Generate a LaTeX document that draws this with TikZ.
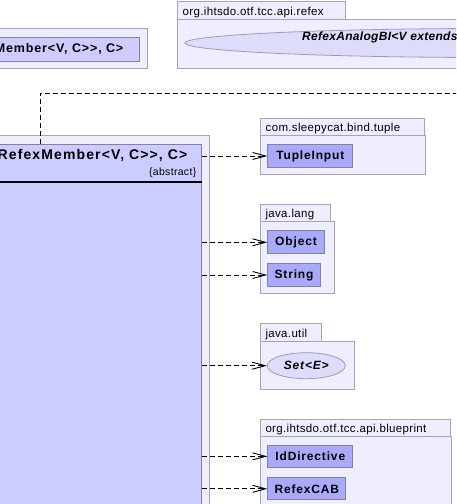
\documentclass[tikz,border=0pt]{standalone}
\usepackage{fontspec}
\setmainfont{Liberation Sans}
\newfontfamily\lblfont[LetterSpace=3]{Liberation Sans}
\newfontfamily\clsfont[LetterSpace=7]{Liberation Sans}
\newfontfamily\hdrfont[LetterSpace=8]{Liberation Sans}
\newfontfamily\ifcfont[LetterSpace=2.5]{Liberation Sans}
\usetikzlibrary{arrows.meta,shapes.geometric,calc}
\definecolor{pkgfill}{HTML}{EEEEFF}
\definecolor{pkgline}{HTML}{A4A4B4}
\definecolor{clsfill}{HTML}{AAAAFA}
\definecolor{mainfill}{HTML}{CCCCFF}
\definecolor{clsline}{HTML}{8080A8}
\definecolor{ifill}{HTML}{DDDDFB}
\definecolor{iline}{HTML}{9C9CB0}
\tikzset{
  pkgbox/.style={rectangle, draw=pkgline, fill=pkgfill, line width=1pt, inner sep=0pt, anchor=north west},
  pkglabel/.style={font=\lblfont\fontsize{11.5}{13}\selectfont, anchor=base west, inner sep=0pt},
  clsbox/.style={rectangle, draw=clsline, fill=clsfill, line width=1pt, inner sep=0pt, anchor=north west,
    font=\clsfont\bfseries\fontsize{12}{14}\selectfont},
  mainbox/.style={rectangle, draw=clsline, fill=mainfill, line width=1pt, inner sep=0pt, anchor=north west},
  ifacebox/.style={ellipse, draw=iline, fill=ifill, line width=0.8pt, inner sep=0pt,
    font=\clsfont\bfseries\itshape\fontsize{12}{14}\selectfont},
  bname/.style={font=\clsfont\bfseries\fontsize{12.5}{14}\selectfont, inner sep=0pt},
  dep/.style={dash pattern=on 5pt off 3pt, line width=0.9pt, -{Straight Barb[length=13pt,width=7pt]}},
}
\begin{document}
\begin{tikzpicture}[x=1pt,y=-1pt]
\useasboundingbox (0,0) rectangle (456,504);
\clip (0,0) rectangle (456,504);
\fill[white] (0,0) rectangle (456,504);

% top-left package
\node[pkgbox, minimum width=197pt, minimum height=40pt] (mpkg) at (-50,28) {};
\node[mainbox, minimum width=189pt, minimum height=24pt] (mcls) at (-50,37) {};
\node[bname, anchor=base east] (mtext) at (123.5,52.5) {Member<V, C>>, C>};

% refex package
\node[pkgbox, minimum width=168pt, minimum height=18pt] (rtab) at (177,1) {};
\node[pkglabel] (rlbl) at (182.5,15) {org.ihtsdo.otf.tcc.api.refex};
\node[pkgbox, minimum width=330pt, minimum height=49pt] (rpkg) at (177,19) {};
\node[ifacebox, minimum width=612pt, minimum height=29pt] (ranalog) at (491,43) {};
\node[font=\ifcfont\bfseries\itshape\fontsize{12}{14}\selectfont, inner sep=0pt, anchor=base west] (rtext) at (302,40.7) {RefexAnalogBI<V extends};

% main package and class
\node[pkgbox, minimum width=259pt, minimum height=470pt] (mainpkg) at (-50,135) {};
\node[mainbox, minimum width=251pt, minimum height=460pt] (main) at (-50,144) {};
\node[font=\hdrfont\bfseries\fontsize{14}{16}\selectfont, inner sep=0pt, anchor=base east] (maintext) at (187.5,159.5) {RefexMember<V, C>>, C>};
\node[font=\lblfont\fontsize{10.5}{12}\selectfont, anchor=base east, inner sep=0pt] (abs) at (196.5,175.5) {\{abstract\}};
\draw[line width=2pt] ($(main.north west)+(0,37.5)$) -- ($(main.north east)+(0,37.5)$);

% com.sleepycat.bind.tuple
\node[pkgbox, minimum width=164pt, minimum height=17pt] (ttab) at (260,118) {};
\node[pkglabel] (tlbl) at (265.5,131) {com.sleepycat.bind.tuple};
\node[pkgbox, minimum width=165pt, minimum height=39pt] (tpkg) at (260,135) {};
\node[clsbox, minimum width=85pt, minimum height=22.4pt] (tuple) at (267.3,144.3) {TupleInput};

% java.lang
\node[pkgbox, minimum width=70pt, minimum height=16.7pt] (ltab) at (259.7,204.3) {};
\node[pkglabel] (llbl) at (265.3,217.5) {java.lang};
\node[pkgbox, minimum width=74pt, minimum height=72.3pt] (lpkg) at (259.7,221) {};
\node[clsbox, minimum width=56.4pt, minimum height=23pt] (object) at (267.3,230.3) {Object};
\node[clsbox, minimum width=52.4pt, minimum height=22.4pt] (string) at (267.3,263.3) {String};

% java.util
\node[pkgbox, minimum width=61.6pt, minimum height=17.4pt] (utab) at (259.7,323.3) {};
\node[pkglabel] (ulbl) at (265.3,337) {java.util};
\node[pkgbox, minimum width=94pt, minimum height=48.3pt] (upkg) at (259.7,340.7) {};
\node[ifacebox, minimum width=78pt, minimum height=26pt] (sete) at (306.3,365.7) {Set<E>};

% blueprint
\node[pkgbox, minimum width=190pt, minimum height=17pt] (btab) at (259.7,419) {};
\node[pkglabel] (blbl) at (265.3,432.5) {org.ihtsdo.otf.tcc.api.blueprint};
\node[pkgbox, minimum width=191pt, minimum height=100pt] (bpkg) at (259.7,436) {};
\node[clsbox, minimum width=85pt, minimum height=21.7pt] (iddir) at (267.3,445) {IdDirective};
\node[clsbox, minimum width=78pt, minimum height=22pt] (rcab) at (267.3,477.3) {RefexCAB};

% connectors
\coordinate (dtop) at (40,93);
\coordinate (dend) at (470,93);
\draw[dep, -] (main.north west -| dtop) -- (dtop) -- (dend);
\draw[dep] (main.east |- tuple.west) -- (tuple.west);
\draw[dep] (main.east |- object.west) -- (object.west);
\draw[dep] (main.east |- string.west) -- (string.west);
\draw[dep] (main.east |- sete.west) -- (sete.west);
\draw[dep] (main.east |- iddir.west) -- (iddir.west);
\draw[dep] (main.east |- rcab.west) -- (rcab.west);
\end{tikzpicture}
\end{document}
